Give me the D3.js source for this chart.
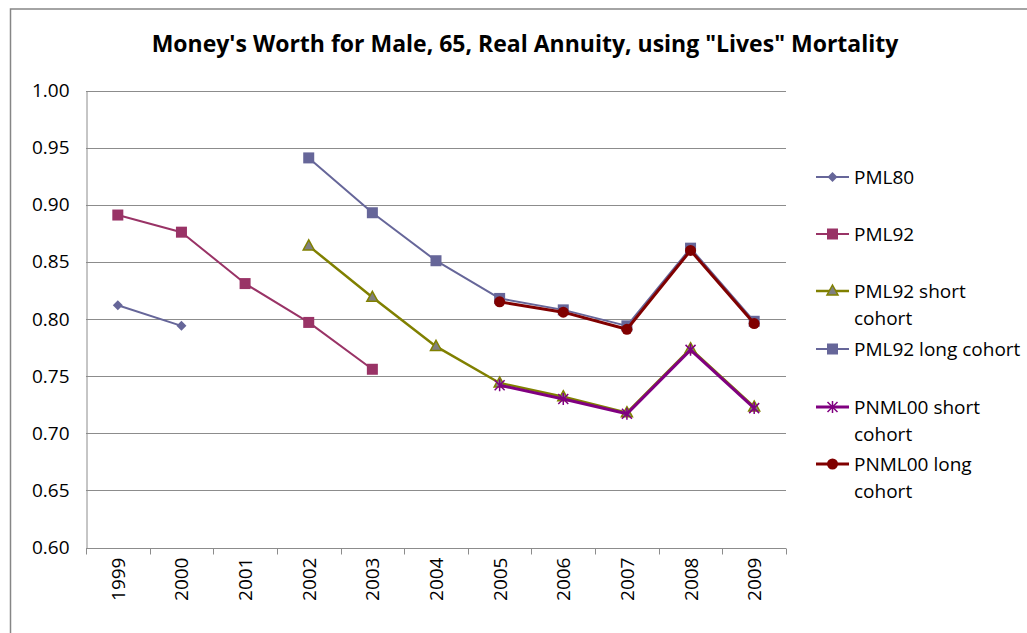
<!DOCTYPE html>
<html>
<head>
<meta charset="utf-8">
<script src="https://cdn.jsdelivr.net/npm/d3@7"></script>
<style>
  body { margin: 0; background: #fff; }
  svg text { font-family: "Open Sans", sans-serif; fill: #000; }
</style>
</head>
<body>
<div id="chart"></div>
<script>
(function() {
    const width = 1027;
    const height = 633;

    const years = ["1999", "2000", "2001", "2002", "2003", "2004", "2005", "2006", "2007", "2008", "2009"];
    const yTicks = [0.60, 0.65, 0.70, 0.75, 0.80, 0.85, 0.90, 0.95, 1.00];

    // null where the series has no value
    const pml80 = [0.812, 0.794, null, null, null, null, null, null, null, null, null];
    const pml92 = [0.891, 0.876, 0.831, 0.797, 0.756, null, null, null, null, null, null];
    const pml92Short = [null, null, null, 0.864, 0.819, 0.776, 0.744, 0.732, 0.718, 0.774, 0.723];
    const pml92Long = [null, null, null, 0.941, 0.893, 0.851, 0.818, 0.808, 0.794, 0.862, 0.798];
    const pnml00Short = [null, null, null, null, null, null, 0.742, 0.730, 0.717, 0.773, 0.722];
    const pnml00Long = [null, null, null, null, null, null, 0.815, 0.806, 0.791, 0.860, 0.796];

    const series = [
        { name: ["PML80"], values: pml80, color: "#666699", marker: "diamond", fill: "#666699", lw: 2 },
        { name: ["PML92"], values: pml92, color: "#993366", marker: "square", fill: "#993366", lw: 2 },
        { name: ["PML92 short", "cohort"], values: pml92Short, color: "#808000", marker: "triangle", fill: "#808080", lw: 2.5 },
        { name: ["PML92 long cohort"], values: pml92Long, color: "#666699", marker: "square", fill: "#666699", lw: 2 },
        { name: ["PNML00 short", "cohort"], values: pnml00Short, color: "#800080", marker: "star", fill: "#800080", lw: 3 },
        { name: ["PNML00 long", "cohort"], values: pnml00Long, color: "#800000", marker: "circle", fill: "#800000", lw: 3 }
    ];

    const margin = { left: 86, top: 90.5, right: 786, bottom: 547.5 };
    const fontSize = 19;

    const x = d3.scaleBand()
        .domain(years)
        .range([margin.left, margin.right]);

    const y = d3.scaleLinear()
        .domain([0.60, 1.00])
        .range([margin.bottom, margin.top]);

    const svg = d3.select("#chart").append("svg")
        .attr("width", width)
        .attr("height", height);

    // chart frame (runs past the page edge)
    svg.append("rect")
        .attr("x", 10.5)
        .attr("y", 9)
        .attr("width", width + 20)
        .attr("height", height + 20)
        .attr("fill", "none")
        .attr("stroke", "#868686")
        .attr("stroke-width", 1.5);

    svg.append("text")
        .attr("x", 525)
        .attr("y", 52)
        .attr("text-anchor", "middle")
        .attr("font-size", 23)
        .attr("font-weight", "bold")
        .text("Money's Worth for Male, 65, Real Annuity, using \"Lives\" Mortality");

    // gridlines
    svg.append("g")
        .selectAll("line")
        .data(yTicks)
        .enter()
        .append("line")
        .attr("x1", margin.left)
        .attr("x2", margin.right)
        .attr("y1", d => Math.round(y(d)) + 0.5)
        .attr("y2", d => Math.round(y(d)) + 0.5)
        .attr("stroke", "#8c8c8c")
        .attr("stroke-width", 1);

    // y axis
    const yAxis = svg.append("g")
        .attr("transform", "translate(" + (margin.left + 0.5) + ",0)")
        .call(d3.axisLeft(y).tickValues(yTicks).tickFormat(d3.format(".2f")).tickSize(0).tickPadding(17));
    yAxis.select(".domain").attr("stroke", "#8c8c8c");
    yAxis.selectAll("text").attr("font-size", fontSize).attr("font-family", "'Open Sans', sans-serif");

    // x axis with ticks on category boundaries
    const xAxisG = svg.append("g")
        .attr("transform", "translate(0," + (Math.round(y(0.60)) + 0.5) + ")");
    xAxisG.append("line")
        .attr("x1", margin.left)
        .attr("x2", margin.right)
        .attr("stroke", "#8c8c8c");
    xAxisG.selectAll(".tk")
        .data(years.concat(["end"]))
        .enter()
        .append("line")
        .attr("x1", (d, i) => Math.round(margin.left + i * x.step()) + 0.5)
        .attr("x2", (d, i) => Math.round(margin.left + i * x.step()) + 0.5)
        .attr("y1", 0)
        .attr("y2", 6)
        .attr("stroke", "#8c8c8c");
    xAxisG.selectAll("text")
        .data(years)
        .enter()
        .append("text")
        .attr("transform", d => "translate(" + (x(d) + x.bandwidth() / 2 + 7) + ",9) rotate(-90)")
        .attr("text-anchor", "end")
        .attr("font-size", fontSize)
        .text(d => d);

    const line = d3.line()
        .defined(d => d != null)
        .x((d, i) => x(years[i]) + x.bandwidth() / 2)
        .y(d => y(d));

    function drawMarker(g, s, cx, cy) {
        const at = "translate(" + cx + "," + cy + ")";
        if (s.marker === "diamond") {
            g.append("path")
                .attr("d", "M0,-5L5,0L0,5L-5,0Z")
                .attr("transform", at)
                .attr("fill", s.fill);
        } else if (s.marker === "square") {
            g.append("rect")
                .attr("x", cx - 5.5).attr("y", cy - 5.5)
                .attr("width", 11).attr("height", 11)
                .attr("fill", s.fill);
        } else if (s.marker === "triangle") {
            g.append("path")
                .attr("d", "M0,-6L5.5,4L-5.5,4Z")
                .attr("transform", at)
                .attr("fill", s.fill)
                .attr("stroke", s.color)
                .attr("stroke-width", 1.5);
        } else if (s.marker === "star") {
            g.append("path")
                .attr("d", "M-5,-5L5,5M-5,5L5,-5M0,-6L0,6")
                .attr("transform", at)
                .attr("stroke", s.color)
                .attr("stroke-width", 1.5);
        } else {
            g.append("circle")
                .attr("cx", cx).attr("cy", cy).attr("r", 5.5)
                .attr("fill", s.fill);
        }
    }

    // series lines and markers
    series.forEach(s => {
        const g = svg.append("g");
        g.append("path")
            .datum(s.values)
            .attr("d", line)
            .attr("fill", "none")
            .attr("stroke", s.color)
            .attr("stroke-width", s.lw)
            .attr("stroke-linejoin", "round");
        s.values.forEach((v, i) => {
            if (v == null) return;
            drawMarker(g, s, x(years[i]) + x.bandwidth() / 2, y(v));
        });
    });

    // legend
    const legendRows = [177, 234, 291, 349, 407, 464];
    const legend = svg.append("g");
    series.forEach((s, i) => {
        const ly = legendRows[i];
        const g = legend.append("g");
        g.append("line")
            .attr("x1", 816).attr("x2", 849)
            .attr("y1", ly).attr("y2", ly)
            .attr("stroke", s.color)
            .attr("stroke-width", s.lw);
        drawMarker(g, s, 832.5, ly);
        s.name.forEach((t, j) => {
            g.append("text")
                .attr("x", 854)
                .attr("y", ly + 7 + j * 26.5)
                .attr("font-size", fontSize)
                .text(t);
        });
    });
})();
</script>
</body>
</html>
